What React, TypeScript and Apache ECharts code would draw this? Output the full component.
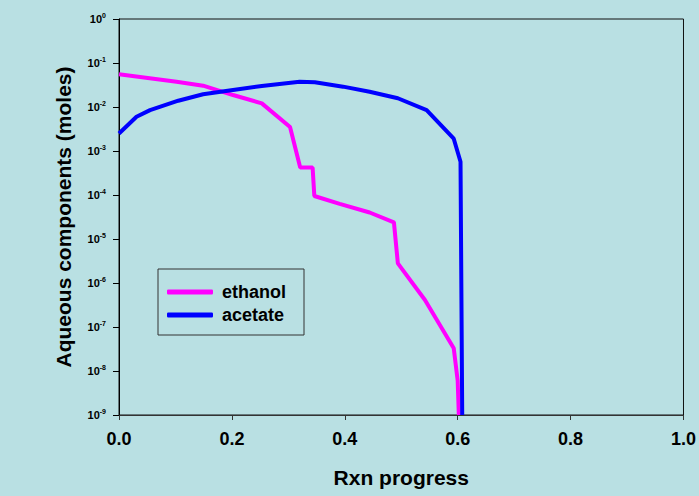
import React, { useEffect, useRef } from "react";
import * as echarts from "echarts";

const xEthanol = [0, 0.102, 0.149, 0.202, 0.253, 0.303, 0.321, 0.343, 0.346, 0.391, 0.444, 0.487, 0.494, 0.542, 0.593, 0.6, 0.602];
const yEthanol = [0.0553, 0.0376, 0.0305, 0.0187, 0.0121, 0.0035, 4.2e-4, 4.2e-4, 9.5e-5, 6.3e-5, 4.0e-5, 2.4e-5, 2.8e-6, 4.1e-7, 3.3e-8, 6e-9, 1e-9];

const xAcetate = [0, 0.031, 0.055, 0.105, 0.149, 0.202, 0.253, 0.32, 0.347, 0.397, 0.444, 0.494, 0.545, 0.593, 0.605, 0.608];
const yAcetate = [2.5e-3, 6.0e-3, 8.5e-3, 0.0139, 0.0195, 0.0244, 0.03, 0.0376, 0.0365, 0.029, 0.0222, 0.0158, 0.0085, 1.9e-3, 5.7e-4, 1e-9];

const seriesNames = ["ethanol", "acetate"];
const seriesColors = ["#ff00ff", "#0000ff"];

const FONT = "'Liberation Sans', Arial, sans-serif";

export default function App() {
  const ref = useRef<HTMLDivElement>(null);
  useEffect(() => {
    if (!ref.current) return;
    const chart = echarts.init(ref.current, null, { renderer: "svg" });
    const pairs = (xs: number[], ys: number[]) => xs.map((x, i) => [x, ys[i]]);
    chart.setOption({
      animation: false,
      backgroundColor: "#b9e0e3",
      textStyle: { fontFamily: FONT },
      grid: {
        left: 119,
        right: 15,
        top: 19,
        bottom: 81,
        show: true,
        borderColor: "#111",
        borderWidth: 1,
        containLabel: false,
      },
      legend: {
        orient: "vertical",
        left: 158,
        top: 269,
        padding: [14, 18, 11, 9],
        borderColor: "#333",
        borderWidth: 1,
        itemWidth: 46,
        itemHeight: 5,
        itemGap: 5,
        icon: "roundRect",
        textStyle: {
          fontFamily: FONT,
          fontWeight: "bold",
          fontSize: 18,
          color: "#000",
          padding: [0, 0, 0, 4],
        },
        data: seriesNames,
      },
      xAxis: {
        type: "value",
        min: 0,
        max: 1,
        interval: 0.2,
        name: "Rxn progress",
        nameLocation: "middle",
        nameGap: 52,
        nameTextStyle: { fontFamily: FONT, fontWeight: "bold", fontSize: 21, color: "#000" },
        axisLine: { show: true, lineStyle: { color: "#333", width: 1 } },
        axisTick: { show: true, length: 5, inside: false, lineStyle: { color: "#333" } },
        splitLine: { show: false },
        axisLabel: {
          margin: 15,
          fontFamily: FONT,
          fontWeight: "bold",
          fontSize: 18,
          color: "#000",
          formatter: (v: number) => v.toFixed(1),
        },
      },
      yAxis: {
        type: "log",
        logBase: 10,
        min: 1e-9,
        max: 1,
        splitNumber: 9,
        name: "Aqueous components (moles)",
        nameLocation: "middle",
        nameGap: 45,
        nameTextStyle: { fontFamily: FONT, fontWeight: "bold", fontSize: 21, color: "#000" },
        axisLine: { show: true, lineStyle: { color: "#000", width: 1 } },
        axisTick: { show: true, length: 6, inside: false, lineStyle: { color: "#000" } },
        minorTick: { show: false },
        splitLine: { show: false },
        axisLabel: {
          margin: 13,
          formatter: (v: number) => `{b|10}{s|${Math.round(Math.log10(v))}}`,
          rich: {
            b: { fontFamily: FONT, fontWeight: "bold", fontSize: 11, color: "#000", lineHeight: 14 },
            s: { fontFamily: FONT, fontWeight: "bold", fontSize: 7, color: "#000", verticalAlign: "top", lineHeight: 8, padding: [0, 0, 6, 0] },
          },
        },
      },
      series: [
        {
          name: seriesNames[0],
          type: "line",
          data: pairs(xEthanol, yEthanol),
          showSymbol: false,
          symbol: "none",
          color: seriesColors[0],
          lineStyle: { color: seriesColors[0], width: 4 },
          z: 2,
        },
        {
          name: seriesNames[1],
          type: "line",
          data: pairs(xAcetate, yAcetate),
          showSymbol: false,
          symbol: "none",
          color: seriesColors[1],
          lineStyle: { color: seriesColors[1], width: 4 },
          z: 3,
        },
      ],
    });
    return () => chart.dispose();
  }, []);
  return (
    <div
      ref={ref}
      style={{ position: "fixed", left: 0, top: 0, width: 699, height: 496 }}
    />
  );
}
